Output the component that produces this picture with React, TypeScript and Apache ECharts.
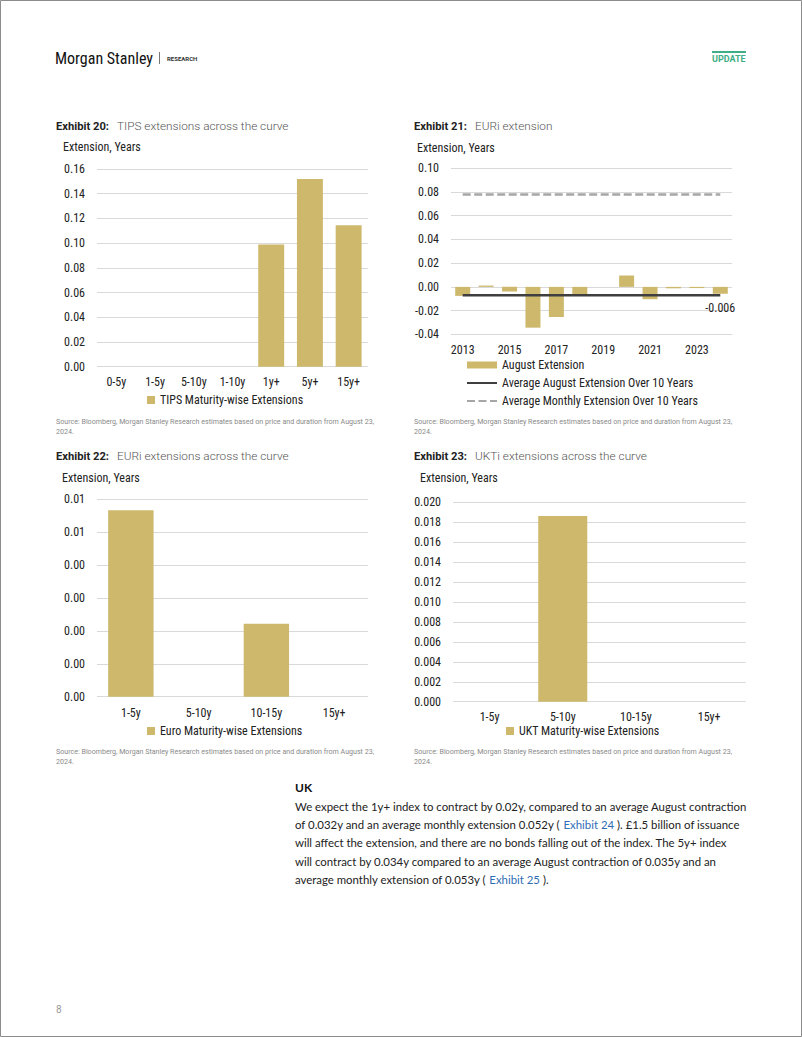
import React, { useEffect, useRef } from "react";
import * as echarts from "echarts";

// ---------- DATA ----------
const tipsCategories = ["0-5y", "1-5y", "5-10y", "1-10y", "1y+", "5y+", "15y+"];
const tipsValues = [0, 0, 0, 0, 0.0988, 0.152, 0.1144];

const euriYears = ["2013", "2014", "2015", "2016", "2017", "2018", "2019", "2020", "2021", "2022", "2023", "2024"];
const augustExtension = [-0.0076, 0.0011, -0.0039, -0.0344, -0.0254, -0.0065, 0, 0.0096, -0.0104, -0.0012, -0.001, -0.0058];
const avgAugustExtension = [-0.007, -0.007, -0.007, -0.007, -0.007, -0.007, -0.007, -0.007, -0.007, -0.007, -0.007, -0.007];
const avgMonthlyExtension = [0.078, 0.078, 0.078, 0.078, 0.078, 0.078, 0.078, 0.078, 0.078, 0.078, 0.078, 0.078];

const euroCategories = ["1-5y", "5-10y", "10-15y", "15y+"];
const euroValues = [0.00567, 0, 0.00222, 0];

const ukCategories = ["1-5y", "5-10y", "10-15y", "15y+"];
const ukValues = [0, 0.01863, 0, 0];

const paragraphLines = [
  "We expect the 1y+ index to contract by 0.02y, compared to an average August contraction",
  "of 0.032y and an average monthly extension 0.052y ( {l|Exhibit 24} ). £1.5 billion of issuance",
  "will affect the extension, and there are no bonds falling out of the index. The 5y+ index",
  "will contract by 0.034y compared to an average August contraction of 0.035y and an",
  "average monthly extension of 0.053y ( {l|Exhibit 25} ).",
];

const SOURCE1 = "Source: Bloomberg, Morgan Stanley Research estimates based on price and duration from August 23,";
const SOURCE2 = "2024.";

// ---------- STYLE ----------
const GOLD = "#CDB86C";
const AX = "'Roboto Condensed', 'Liberation Sans Narrow', 'DejaVu Sans Condensed', Roboto, sans-serif";
const TXT = "Roboto, sans-serif";
const BODY = "Lato, 'Noto Sans', sans-serif";
const GRID_COLOR = "#D9D9D9";

function xAxisCfg(gridIndex: number, data: string[], margin: number, interval?: number) {
  return {
    type: "category",
    gridIndex,
    data,
    axisLine: { show: false, onZero: false },
    axisTick: { show: false },
    axisLabel: {
      color: "#222",
      fontSize: 12,
      fontFamily: AX,
      margin,
      interval: interval === undefined ? 0 : interval,
    },
  };
}

function yAxisCfg(gridIndex: number, min: number, max: number, interval: number, digits: number) {
  return {
    type: "value",
    gridIndex,
    min,
    max,
    interval,
    axisLine: { show: false },
    axisTick: { show: false },
    splitLine: { lineStyle: { color: GRID_COLOR, width: 1 } },
    axisLabel: {
      color: "#222",
      fontSize: 12,
      fontFamily: AX,
      margin: 12,
      formatter: (v: number) => (v + (v >= 0 ? 1e-9 : -1e-9)).toFixed(digits),
    },
  };
}

function titleText(x: number, y: number, num: string, title: string) {
  return {
    type: "text",
    x,
    y,
    style: {
      text: `{b|Exhibit ${num}:}{t|${title}}`,
      verticalAlign: "middle",
      rich: {
        b: { fontFamily: TXT, fontWeight: "bold", fontSize: 11.2, fill: "#222" },
        t: { fontFamily: TXT, fontWeight: 300, fontSize: 11.8, fill: "#555", padding: [0, 0, 0, 8] },
      },
    },
  };
}

function plainText(x: number, y: number, text: string, size: number, color: string, family: string, weight: any = "normal") {
  return {
    type: "text",
    x,
    y,
    style: { text, fontSize: size, fill: color, fontFamily: family, fontWeight: weight, verticalAlign: "middle" },
  };
}

function sourceTexts(x: number, y: number) {
  return [
    plainText(x, y, SOURCE1, 7.1, "#8a8a8a", TXT),
    plainText(x, y + 10, SOURCE2, 7.1, "#8a8a8a", TXT),
  ];
}

export default function App() {
  const ref = useRef<HTMLDivElement>(null);

  useEffect(() => {
    if (!ref.current) return;
    const chart = echarts.init(ref.current, undefined, { renderer: "svg" });

    const graphics: any[] = [
      {
        type: "rect",
        shape: { x: 0.5, y: 0.5, width: 801, height: 1036 },
        style: { fill: "none", stroke: "#8c8c8c", lineWidth: 1 },
      },
      plainText(55, 58, "Morgan Stanley", 16, "#111", AX),
      { type: "rect", shape: { x: 159, y: 52, width: 1, height: 12 }, style: { fill: "#777" } },
      plainText(167, 58, "RESEARCH", 6, "#333", TXT, "bold"),
      { type: "rect", shape: { x: 712, y: 51, width: 34, height: 2 }, style: { fill: "#3FAE86" } },
      plainText(712, 59, "UPDATE", 9, "#3FAE86", TXT, "bold"),

      titleText(56, 126, "20", "TIPS extensions across the curve"),
      titleText(414, 126, "21", "EURi extension"),
      titleText(56, 456, "22", "EURi extensions across the curve"),
      titleText(414, 456, "23", "UKTi extensions across the curve"),

      plainText(63, 147, "Extension, Years", 12, "#222", AX),
      plainText(417, 148, "Extension, Years", 12, "#222", AX),
      plainText(62, 478, "Extension, Years", 12, "#222", AX),
      plainText(420, 478, "Extension, Years", 12, "#222", AX),

      ...sourceTexts(56, 421),
      ...sourceTexts(414, 421),
      ...sourceTexts(56, 751),
      ...sourceTexts(414, 751),

      plainText(295, 787, "UK", 12, "#111", BODY, "bold"),
      ...paragraphLines.map((line, i) => ({
        type: "text",
        x: 295,
        y: 806 + i * 18.4,
        style: {
          text: line,
          fontSize: 11.4,
          fill: "#222",
          fontFamily: BODY,
          verticalAlign: "middle",
          rich: { l: { fontSize: 11.4, fill: "#2F6DB5", fontFamily: BODY } },
        },
      })),

      plainText(56, 1009, "8", 10, "#999", TXT),
    ];

    const legendText = { color: "#222", fontSize: 12, fontFamily: AX };
    const hideSymbol = { opacity: 0 };

    chart.setOption({
      animation: false,
      backgroundColor: "#fff",
      grid: [
        { left: 97, right: 434, top: 169, bottom: 670.3 },
        { left: 451, right: 70, top: 168.3, bottom: 702.7 },
        { left: 97, right: 434, top: 499.3, bottom: 340.3 },
        { left: 453, right: 56.3, top: 502.3, bottom: 335.3 },
      ],
      xAxis: [
        xAxisCfg(0, tipsCategories, 9),
        xAxisCfg(1, euriYears, 10, 1),
        xAxisCfg(2, euroCategories, 10),
        xAxisCfg(3, ukCategories, 9),
      ],
      yAxis: [
        yAxisCfg(0, 0, 0.16, 0.02, 2),
        yAxisCfg(1, -0.04, 0.1, 0.02, 2),
        yAxisCfg(2, 0, 0.006, 0.001, 2),
        yAxisCfg(3, 0, 0.02, 0.002, 3),
      ],
      legend: [
        {
          data: ["TIPS Maturity-wise Extensions"],
          left: 142,
          top: 389,
          itemWidth: 8,
          itemHeight: 8,
          icon: "rect",
          textStyle: legendText,
        },
        {
          data: [
            { name: "August Extension", icon: "rect" },
            { name: "Average August Extension Over 10 Years", itemStyle: hideSymbol },
            { name: "Average Monthly Extension Over 10 Years", itemStyle: hideSymbol },
          ],
          orient: "vertical",
          left: 461,
          top: 354,
          itemWidth: 30,
          itemHeight: 7,
          itemGap: 6,
          textStyle: legendText,
        },
        {
          data: ["Euro Maturity-wise Extensions"],
          left: 142,
          top: 720,
          itemWidth: 8,
          itemHeight: 8,
          icon: "rect",
          textStyle: legendText,
        },
        {
          data: ["UKT Maturity-wise Extensions"],
          left: 501,
          top: 720,
          itemWidth: 8,
          itemHeight: 8,
          icon: "rect",
          textStyle: legendText,
        },
      ],
      series: [
        {
          name: "TIPS Maturity-wise Extensions",
          type: "bar",
          xAxisIndex: 0,
          yAxisIndex: 0,
          data: tipsValues,
          barWidth: "67%",
          itemStyle: { color: GOLD },
        },
        {
          name: "August Extension",
          type: "bar",
          xAxisIndex: 1,
          yAxisIndex: 1,
          barWidth: "64%",
          itemStyle: { color: GOLD },
          data: augustExtension.map((v, i) =>
            i === augustExtension.length - 1
              ? {
                  value: v,
                  label: {
                    show: true,
                    position: "bottom",
                    distance: 8,
                    color: "#222",
                    fontSize: 12,
                    fontFamily: AX,
                    formatter: (p: any) => p.value.toFixed(3),
                  },
                }
              : v
          ),
        },
        {
          name: "Average August Extension Over 10 Years",
          type: "line",
          xAxisIndex: 1,
          yAxisIndex: 1,
          data: avgAugustExtension,
          symbol: "none",
          z: 5,
          lineStyle: { color: "#3F3F3F", width: 2.5 },
          itemStyle: { color: "#3F3F3F" },
        },
        {
          name: "Average Monthly Extension Over 10 Years",
          type: "line",
          xAxisIndex: 1,
          yAxisIndex: 1,
          data: avgMonthlyExtension,
          symbol: "none",
          z: 5,
          lineStyle: { color: "#A6A6A6", width: 2.5, type: [8, 3.5] },
          itemStyle: { color: "#A6A6A6" },
        },
        {
          name: "Euro Maturity-wise Extensions",
          type: "bar",
          xAxisIndex: 2,
          yAxisIndex: 2,
          data: euroValues,
          barWidth: "67%",
          itemStyle: { color: GOLD },
        },
        {
          name: "UKT Maturity-wise Extensions",
          type: "bar",
          xAxisIndex: 3,
          yAxisIndex: 3,
          data: ukValues,
          barWidth: "67%",
          itemStyle: { color: GOLD },
        },
      ],
      graphic: graphics,
    });

    return () => chart.dispose();
  }, []);

  return (
    <div
      ref={ref}
      style={{ position: "absolute", left: 0, top: 0, width: 802, height: 1037, background: "#fff" }}
    />
  );
}
